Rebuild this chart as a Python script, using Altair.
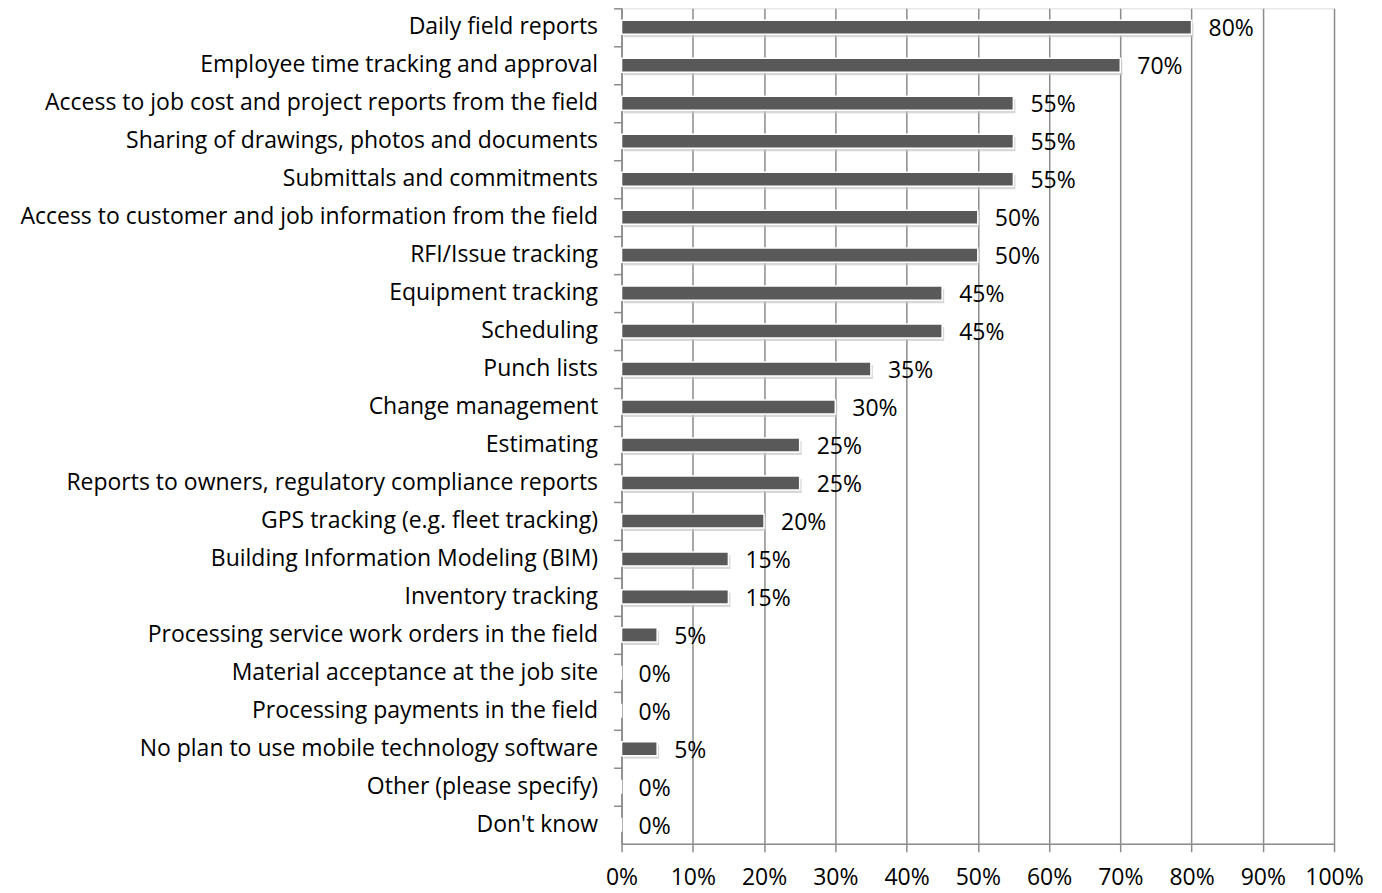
import altair as alt
import pandas as pd

categories = [
    "Daily field reports",
    "Employee time tracking and approval",
    "Access to job cost and project reports from the field",
    "Sharing of drawings, photos and documents",
    "Submittals and commitments",
    "Access to customer and job information from the field",
    "RFI/Issue tracking",
    "Equipment tracking",
    "Scheduling",
    "Punch lists",
    "Change management",
    "Estimating",
    "Reports to owners, regulatory compliance reports",
    "GPS tracking (e.g. fleet tracking)",
    "Building Information Modeling (BIM)",
    "Inventory tracking",
    "Processing service work orders in the field",
    "Material acceptance at the job site",
    "Processing payments in the field",
    "No plan to use mobile technology software",
    "Other (please specify)",
    "Don't know",
]
values = [0.80, 0.70, 0.55, 0.55, 0.55, 0.50, 0.50, 0.45, 0.45, 0.35, 0.30,
          0.25, 0.25, 0.20, 0.15, 0.15, 0.05, 0.0, 0.0, 0.05, 0.0, 0.0]
x_ticks = [i / 10 for i in range(11)]

df = pd.DataFrame({"cat": categories, "val": values})

CAT_FONT = "Open Sans"
NUM_FONT = "Open Sans"

y_enc = alt.Y("cat:N", sort=categories, title=None,
              scale=alt.Scale(paddingInner=0, paddingOuter=0),
              axis=alt.Axis(bandPosition=0, tickSize=8, tickColor="#8c8c8c",
                            tickWidth=1.5, domainColor="#8c8c8c", domainWidth=1.5,
                            labelFont=CAT_FONT, labelFontSize=23, labelColor="#000000",
                            labelPadding=16, labelLimit=700, grid=False))
x_enc = alt.X("val:Q", title=None,
              scale=alt.Scale(domain=[0, 1], nice=False),
              axis=alt.Axis(format=".0%", values=x_ticks,
                            tickSize=8, tickColor="#8c8c8c", tickWidth=1.5,
                            domainColor="#8c8c8c", domainWidth=1.5,
                            grid=True, gridColor="#8c8c8c", gridWidth=1.5,
                            labelFont=NUM_FONT, labelFontSize=23, labelColor="#000000",
                            labelPadding=15, labelFlush=False, labelOverlap=False))

base = alt.Chart(df)

shadow = base.mark_bar(height=alt.RelativeBandSize(0.37), color="#c8c8c8",
                       opacity=0.7, xOffset=2, yOffset=3).encode(x=x_enc, y=y_enc)
bars = base.mark_bar(height=alt.RelativeBandSize(0.37), color="#595959",
                     stroke="#ffffff", strokeWidth=1.5).encode(x=x_enc, y=y_enc)
labels = base.mark_text(align="left", baseline="middle", dx=17, dy=2,
                        font=NUM_FONT, fontSize=23, color="#000000").encode(
    x=x_enc, y=y_enc, text=alt.Text("val:Q", format=".0%"))

chart = (shadow + bars + labels).properties(
    width=713, height=836,
    autosize=alt.AutoSizeParams(type="none"),
    padding={"left": 614, "top": 0, "right": 40, "bottom": 48},
).configure_view(stroke=None).configure(background="#ffffff")

chart.save("out.html", embed_options={"renderer": "svg", "actions": False})
